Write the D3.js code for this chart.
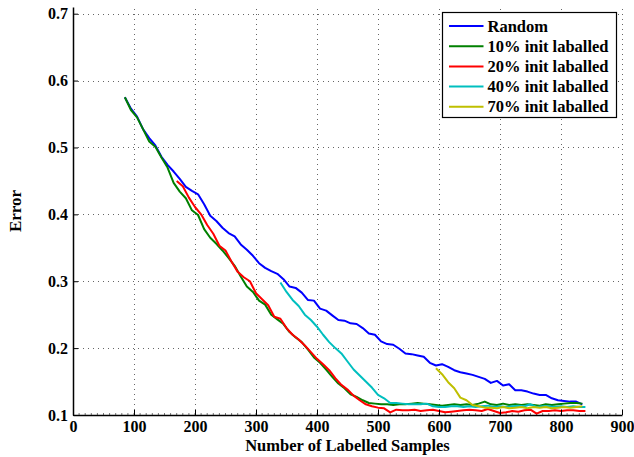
<!DOCTYPE html>
<html>
<head>
<meta charset="utf-8">
<script src="https://cdn.jsdelivr.net/npm/d3@7"></script>
<style>
  body { margin: 0; background: #fff; }
  text { font-family: "Liberation Serif", "Times New Roman", serif; font-weight: bold; }
</style>
</head>
<body>
<script>
// error curves, one value per 10 labelled samples
var randomStart = 85;
var randomErr = [0.575, 0.558, 0.546, 0.527, 0.514, 0.503, 0.486, 0.474, 0.464, 0.453,
  0.441, 0.435, 0.430, 0.415, 0.398, 0.390, 0.380, 0.372, 0.367, 0.355,
  0.347, 0.338, 0.327, 0.320, 0.315, 0.311, 0.303, 0.292, 0.290, 0.283,
  0.272, 0.271, 0.259, 0.256, 0.249, 0.242, 0.241, 0.237, 0.236, 0.230,
  0.222, 0.220, 0.210, 0.206, 0.205, 0.199, 0.192, 0.191, 0.189, 0.187,
  0.178, 0.174, 0.176, 0.172, 0.167, 0.164, 0.162, 0.160, 0.157, 0.154,
  0.148, 0.151, 0.144, 0.146, 0.137, 0.137, 0.135, 0.132, 0.130, 0.130,
  0.125, 0.122, 0.121, 0.120, 0.120, 0.116];

var init10Start = 85;
var init10Err = [0.575, 0.556, 0.545, 0.527, 0.509, 0.501, 0.485, 0.470, 0.447, 0.434,
  0.424, 0.406, 0.399, 0.378, 0.365, 0.356, 0.346, 0.335, 0.323, 0.307,
  0.292, 0.284, 0.271, 0.265, 0.250, 0.243, 0.236, 0.224, 0.216, 0.209,
  0.198, 0.186, 0.178, 0.168, 0.157, 0.147, 0.140, 0.131, 0.127, 0.122,
  0.118, 0.117, 0.116, 0.116, 0.115, 0.116, 0.116, 0.117, 0.118, 0.117,
  0.116, 0.115, 0.114, 0.115, 0.116, 0.115, 0.116, 0.115, 0.117, 0.120,
  0.116, 0.115, 0.117, 0.115, 0.116, 0.115, 0.116, 0.115, 0.114, 0.116,
  0.115, 0.116, 0.117, 0.118, 0.118, 0.117];

var init20Start = 170;
var init20Err = [0.450, 0.442, 0.425, 0.411, 0.400, 0.384, 0.371, 0.353, 0.346, 0.329,
  0.314, 0.306, 0.300, 0.282, 0.273, 0.264, 0.247, 0.244, 0.230, 0.220,
  0.213, 0.204, 0.194, 0.184, 0.176, 0.167, 0.155, 0.145, 0.138, 0.129,
  0.122, 0.116, 0.113, 0.111, 0.110, 0.104, 0.108, 0.107, 0.107, 0.108,
  0.106, 0.107, 0.108, 0.106, 0.104, 0.105, 0.106, 0.107, 0.108, 0.107,
  0.106, 0.109, 0.106, 0.103, 0.104, 0.106, 0.105, 0.107, 0.108, 0.102,
  0.106, 0.106, 0.107, 0.106, 0.107, 0.107, 0.106, 0.106];

var init40Start = 340;
var init40Err = [0.298, 0.284, 0.272, 0.263, 0.250, 0.242, 0.232, 0.220, 0.209, 0.200,
  0.192, 0.180, 0.168, 0.159, 0.150, 0.141, 0.130, 0.125, 0.118, 0.118,
  0.117, 0.116, 0.116, 0.116, 0.117, 0.113, 0.112, 0.112, 0.113, 0.113,
  0.112, 0.113, 0.112, 0.113, 0.114, 0.112, 0.113, 0.112, 0.113, 0.114,
  0.113, 0.116, 0.112, 0.113, 0.113, 0.112, 0.113, 0.112, 0.113, 0.112, 0.112];

var init70Start = 595;
var init70Err = [0.170, 0.161, 0.149, 0.140, 0.126, 0.122, 0.115, 0.113, 0.111, 0.111,
  0.110, 0.112, 0.110, 0.111, 0.112, 0.110, 0.112, 0.111, 0.112, 0.110,
  0.111, 0.112, 0.111, 0.112, 0.113];

var seriesNames = ["Random", "10% init laballed", "20% init laballed", "40% init laballed", "70% init laballed"];
var seriesColors = ["#0000ff", "#008000", "#ff0000", "#00bfbf", "#bfbf00"];
var xTicks = [0, 100, 200, 300, 400, 500, 600, 700, 800, 900];
var yTicks = [0.1, 0.2, 0.3, 0.4, 0.5, 0.6, 0.7];

var width = 634, height = 457;
var margin = {top: 7, right: 12, bottom: 42, left: 73};

var svg = d3.select("body").append("svg")
    .attr("width", width)
    .attr("height", height);

var x = d3.scaleLinear().domain([0, 900]).range([margin.left, width - margin.right]);
var y = d3.scaleLinear().domain([0.1, 0.71]).range([height - margin.bottom, margin.top]);

// build points from start + step of 10
function toPoints(start, vals) {
    return vals.map(function(v, i) { return [start + i * 10, v]; });
}
var allSeries = [
    toPoints(randomStart, randomErr),
    toPoints(init10Start, init10Err),
    toPoints(init20Start, init20Err),
    toPoints(init40Start, init40Err),
    toPoints(init70Start, init70Err)
];

// grid
var grid = svg.append("g")
    .attr("stroke", "#666")
    .attr("stroke-width", 1)
    .attr("stroke-dasharray", "1,4");

grid.selectAll(".vg")
    .data(xTicks.slice(1))
  .enter().append("line")
    .attr("x1", function(d) { return x(d) + 0.5; })
    .attr("x2", function(d) { return x(d) + 0.5; })
    .attr("y1", y(0.1))
    .attr("y2", y(0.71));

grid.selectAll(".hg")
    .data(yTicks.slice(1))
  .enter().append("line")
    .attr("x1", x(0))
    .attr("x2", x(900))
    .attr("y1", function(d) { return Math.round(y(d)) + 0.5; })
    .attr("y2", function(d) { return Math.round(y(d)) + 0.5; });

// minor ticks on x axis
svg.append("g")
    .attr("stroke", "#777")
    .selectAll("line")
    .data(d3.range(10, 900, 10))
  .enter().append("line")
    .attr("x1", function(d) { return x(d); })
    .attr("x2", function(d) { return x(d); })
    .attr("y1", y(0.1))
    .attr("y2", y(0.1) - 2);

// lines
var line = d3.line()
    .x(function(d) { return x(d[0]); })
    .y(function(d) { return y(d[1]); });

svg.append("g").selectAll("path")
    .data(allSeries)
  .enter().append("path")
    .attr("d", line)
    .attr("fill", "none")
    .attr("stroke", function(d, i) { return seriesColors[i]; })
    .attr("stroke-width", 2)
    .attr("stroke-linejoin", "round");

// axes
var xAxis = svg.append("g")
    .attr("transform", "translate(0," + y(0.1) + ")")
    .call(d3.axisBottom(x).tickValues(xTicks).tickSize(-5).tickPadding(6).tickSizeOuter(0));

var yAxis = svg.append("g")
    .attr("transform", "translate(" + x(0) + ",0)")
    .call(d3.axisLeft(y).tickValues(yTicks).tickFormat(d3.format(".1f")).tickSize(-5).tickPadding(5).tickSizeOuter(0));

[xAxis, yAxis].forEach(function(ax) {
    ax.select(".domain").attr("stroke", "#000").attr("stroke-width", 1.5);
    ax.selectAll(".tick line").attr("stroke", "#000").attr("stroke-width", 1);
    ax.selectAll("text")
        .attr("fill", "#000")
        .style("font-family", "'Liberation Serif', 'Times New Roman', serif")
        .style("font-weight", "bold")
        .style("font-size", "16px");
});

// axis labels
svg.append("text")
    .attr("x", (x(0) + x(900)) / 2)
    .attr("y", 451)
    .attr("text-anchor", "middle")
    .style("font-size", "16.5px")
    .text("Number of Labelled Samples");

svg.append("text")
    .attr("transform", "translate(21," + (y(0.1) + y(0.71)) / 2 + ") rotate(-90)")
    .attr("text-anchor", "middle")
    .style("font-size", "17px")
    .text("Error");

// legend
var legend = svg.append("g").attr("transform", "translate(442.5,12.5)");

legend.append("rect")
    .attr("width", 174)
    .attr("height", 105)
    .attr("fill", "#fff")
    .attr("stroke", "#000")
    .attr("stroke-width", 1.2);

var items = legend.selectAll(".item")
    .data(seriesNames)
  .enter().append("g")
    .attr("transform", function(d, i) { return "translate(0," + (13.5 + i * 20.2) + ")"; });

items.append("line")
    .attr("x1", 6.5)
    .attr("x2", 41)
    .attr("stroke", function(d, i) { return seriesColors[i]; })
    .attr("stroke-width", 2);

items.append("text")
    .attr("x", 45)
    .attr("y", 5.5)
    .style("font-size", "16.5px")
    .text(function(d) { return d; });
</script>
</body>
</html>
